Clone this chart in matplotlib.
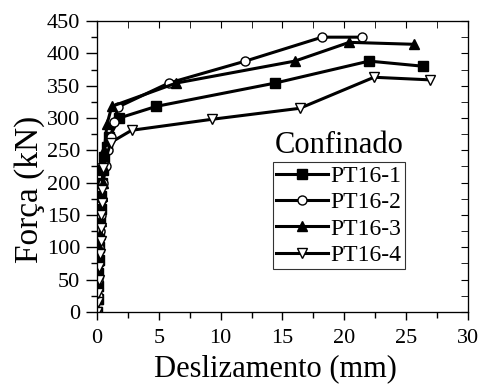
import numpy as np
import matplotlib.pyplot as plt
from matplotlib.ticker import MultipleLocator

plt.rcParams['font.family'] = ['Liberation Serif', 'DejaVu Serif']

# Deslizamento (mm) / Força (kN)
x1 = [0.0, 0.05, 0.1, 0.1, 0.15, 0.2, 0.2, 0.25, 0.3, 0.35, 0.4, 0.5, 0.6, 0.8, 1.0, 1.8, 4.8, 14.4, 22.0, 26.4]
f1 = [0, 20, 40, 60, 80, 100, 120, 140, 160, 180, 200, 220, 240, 255, 270, 300, 318, 354, 388, 380]

x2 = [0.0, 0.05, 0.1, 0.15, 0.2, 0.25, 0.3, 0.4, 0.5, 0.7, 0.9, 1.1, 1.4, 1.7, 5.8, 12.0, 18.2, 21.4]
f2 = [0, 25, 50, 75, 100, 125, 150, 175, 200, 225, 250, 270, 294, 317, 354, 388, 425, 425]

x3 = [0.0, 0.05, 0.1, 0.1, 0.15, 0.2, 0.25, 0.3, 0.35, 0.4, 0.45, 0.5, 0.6, 0.8, 1.2, 6.4, 16.0, 20.4, 25.6]
f3 = [0, 20, 40, 60, 80, 100, 120, 140, 160, 180, 200, 225, 250, 290, 318, 354, 388, 417, 414]

x4 = [0.0, 0.05, 0.1, 0.15, 0.2, 0.25, 0.3, 0.3, 0.35, 0.4, 0.4, 0.5, 1.1, 2.8, 9.3, 16.4, 22.4, 26.9]
f4 = [0, 15, 30, 50, 70, 90, 110, 130, 150, 168, 189, 223, 262, 281, 298, 315, 363, 359]

labels = ["PT16-1", "PT16-2", "PT16-3", "PT16-4"]

fig = plt.figure(figsize=(4.79, 3.89), dpi=100)
ax = fig.add_axes([0.2025, 0.198, 0.7745, 0.748])

kw = dict(color="black", lw=2.2, ms=6.5, mec="black", mew=1)
ax.plot(x1, f1, marker="s", mfc="black", label=labels[0], **kw)
ax.plot(x2, f2, marker="o", mfc="white", label=labels[1], **kw)
ax.plot(x3, f3, marker="^", mfc="black", label=labels[2], **kw)
ax.plot(x4, f4, marker="v", mfc="white", label=labels[3], **kw)

ax.set_xlim(0, 30)
ax.set_ylim(0, 450)
ax.xaxis.set_major_locator(MultipleLocator(5))
ax.xaxis.set_minor_locator(MultipleLocator(2.5))
ax.yaxis.set_major_locator(MultipleLocator(50))
ax.yaxis.set_minor_locator(MultipleLocator(25))
ax.tick_params(which="major", direction="out", length=8, width=1, labelsize=16, pad=4)
ax.tick_params(which="minor", direction="out", length=4, width=1)
ax.tick_params(axis="x", which="major", length=6, pad=6)

# inward ticks on top and right
axt = ax.twiny()
axt.set_xlim(0, 30)
axt.xaxis.set_major_locator(MultipleLocator(5))
axt.xaxis.set_minor_locator(MultipleLocator(2.5))
axt.tick_params(which="both", direction="in", labeltop=False, length=5)
axr = ax.twinx()
axr.set_ylim(0, 450)
axr.yaxis.set_major_locator(MultipleLocator(50))
axr.yaxis.set_minor_locator(MultipleLocator(25))
axr.tick_params(which="both", direction="in", labelright=False, length=5)

ax.set_xlabel("Deslizamento (mm)", fontsize=22)
ax.xaxis.set_label_coords(0.482, -0.145)
ax.set_ylabel("Força (kN)", fontsize=24)
ax.yaxis.set_label_coords(-0.14, 0.42)

ax.text(19.6, 258, "Confinado", fontsize=22, ha="center", va="center")
leg = ax.legend(loc="upper left", bbox_to_anchor=(0.474, 0.515), fontsize=17,
                frameon=True, fancybox=False, edgecolor="black", handlelength=2.2,
                borderpad=0.15, labelspacing=0.2, handletextpad=0.1, borderaxespad=0)
leg.get_frame().set_linewidth(0.8)

fig.savefig("out.png", dpi=100)
